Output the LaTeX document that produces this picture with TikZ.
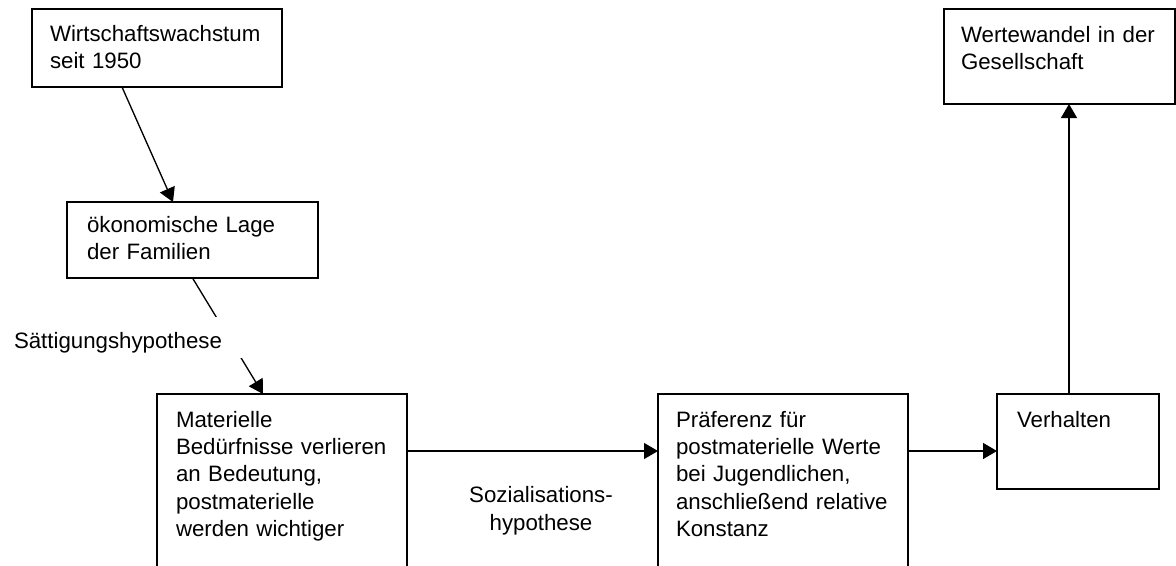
\documentclass[tikz,border=0pt]{standalone}
\usepackage{fontspec}
\newfontfamily\diagfont{Liberation Sans}
\usetikzlibrary{calc,arrows.meta}
\newlength{\pxu}
\setlength{\pxu}{0.75pt}
\newcommand{\boxfont}{\diagfont\fontsize{16.7}{20.5}\selectfont\hyphenpenalty=10000 }
\tikzset{
  concept box/.style={draw,line width=1pt,anchor=north west,outer sep=0pt,inner ysep=0pt,align=left,font=\boxfont},
  flow arrow/.style={line width=1pt,-{Triangle[length=10.5pt,width=12pt]}},
  hypothesis label/.style={inner sep=0pt,outer sep=0pt,font=\boxfont},
}

\begin{document}
\begin{tikzpicture}[x=1\pxu,y=-1\pxu]
\useasboundingbox (0,0) rectangle (1176,565);
% boxes
\node[concept box,inner xsep=18\pxu,text width=214\pxu,text height=32\pxu,text depth=46\pxu] (wachstum) at (32,9) {Wirtschaftswachstum\\seit 1950};
\node[concept box,inner xsep=20\pxu,text width=211\pxu,text height=30\pxu,text depth=46\pxu] (lage) at (67,202) {ökonomische Lage\\der Familien};
\node[concept box,inner xsep=19\pxu,text width=212\pxu,text height=33\pxu,text depth=200\pxu] (materiell) at (157,394) {Materielle\\Bedürfnisse verlieren\\an Bedeutung,\\postmaterielle\\werden wichtiger};
\node[concept box,inner xsep=18\pxu,text width=214\pxu,text height=33\pxu,text depth=200\pxu] (praeferenz) at (658,394) {Präferenz für\\postmaterielle Werte\\bei Jugendlichen,\\anschließend relative\\Konstanz};
\node[concept box,inner xsep=20\pxu,text width=122\pxu,text height=33\pxu,text depth=62\pxu] (verhalten) at (997,394) {Verhalten};
\node[concept box,inner xsep=17\pxu,text width=197\pxu,text height=33\pxu,text depth=62\pxu] (wandel) at (944,9) {Wertewandel in der\\Gesellschaft};
% arrows
\draw[flow arrow] ($(wachstum.south)+(-35,0)$) -- ($(lage.north)+(-19.5,0)$);
\draw[flow arrow] (lage.south) -- ($(materiell.north)+(-19,0)$);
\node[hypothesis label,fill=white,anchor=north west,align=left,text width=235\pxu,text height=31\pxu,text depth=10\pxu] (saett) at (14,317) {Sättigungshypothese};
\draw[flow arrow] ($(materiell.north east)+(0,57)$) -- ($(praeferenz.north west)+(0,57)$);
\node[hypothesis label,align=center,anchor=base] (sozial) at (541,530) {Sozialisations-\\hypothese};
\draw[flow arrow] ($(praeferenz.north east)+(0,57)$) -- ($(verhalten.north west)+(0,57)$);
\coordinate (vhook) at ($(verhalten.north)+(-9,0)$);
\draw[flow arrow] (vhook) -- (vhook |- wandel.south);
\end{tikzpicture}
\end{document}
